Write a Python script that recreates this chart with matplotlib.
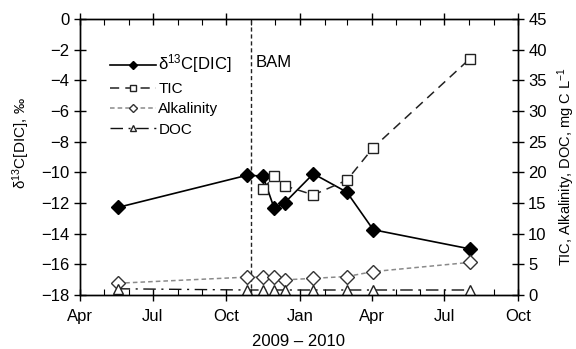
import datetime as dt

import matplotlib
matplotlib.use("Agg")
import matplotlib.pyplot as plt
import matplotlib.dates as mdates

plt.rcParams["font.family"] = ["Liberation Sans", "DejaVu Sans"]
plt.rcParams["mathtext.fontset"] = "custom"
plt.rcParams["mathtext.rm"] = "Liberation Sans"
plt.rcParams["mathtext.it"] = "Liberation Sans:italic"

# sampling dates
DIC_DATES = ["2009-05-18", "2009-10-27", "2009-11-16", "2009-11-30", "2009-12-13",
             "2010-01-18", "2010-03-01", "2010-04-03", "2010-08-02"]
D13C_DIC = [-12.3, -10.2, -10.25, -12.35, -12.0, -10.1, -11.3, -13.75, -15.0]

TIC_DATES = ["2009-11-16", "2009-11-30", "2009-12-13", "2010-01-18",
             "2010-03-01", "2010-04-03", "2010-08-02"]
TIC = [17.2, 19.4, 17.8, 16.3, 18.7, 24.0, 38.5]

ALK_DATES = DIC_DATES
ALKALINITY = [1.9, 2.9, 2.9, 2.9, 2.45, 2.7, 3.0, 3.8, 5.3]

DOC_DATES = DIC_DATES
DOC = [1.0, 0.8, 0.8, 0.8, 0.8, 0.8, 0.8, 0.8, 0.8]

BAM_DATE = "2009-11-01"


def to_dates(strs):
    return [dt.datetime.strptime(s, "%Y-%m-%d") for s in strs]


fig = plt.figure(figsize=(5.76, 3.49), dpi=100)
ax = fig.add_axes([0.139, 0.155, 0.760, 0.791])
ax2 = ax.twinx()

ax.plot(to_dates(DIC_DATES), D13C_DIC, color="black", lw=1.2, marker="D",
        ms=7, mfc="black", mec="black", label=r"δ$^{13}$C[DIC]", zorder=5)
ax2.plot(to_dates(TIC_DATES), TIC, color="#222222", lw=1.1, ls=(0, (6, 4)),
         marker="s", ms=7, mfc="white", mec="#222222", mew=1.0, label="TIC")
ax2.plot(to_dates(ALK_DATES), ALKALINITY, color="#8a8a8a", lw=1.1, ls=(0, (3, 2)),
         marker="D", ms=7.5, mfc="white", mec="#333333", mew=1.0, label="Alkalinity")
ax2.plot(to_dates(DOC_DATES), DOC, color="#111111", lw=1.0, ls=(0, (9, 4, 1.5, 4)),
         marker="^", ms=7.5, mfc="white", mec="#222222", mew=1.0, label="DOC")

ax.axvline(dt.datetime.strptime(BAM_DATE, "%Y-%m-%d"), color="#222222",
           lw=1.0, ls=(0, (3, 2)))
ax.text(dt.datetime(2009, 11, 7), -2.85, "BAM", fontsize=12, va="center")

ax.set_xlim(dt.datetime(2009, 4, 1), dt.datetime(2010, 10, 1))
ax.set_ylim(-18, 0)
ax2.set_ylim(0, 45)

ax.xaxis.set_major_locator(mdates.MonthLocator(bymonth=[1, 4, 7, 10]))
ax.xaxis.set_major_formatter(mdates.DateFormatter("%b"))
ax.xaxis.set_minor_locator(mdates.MonthLocator())
ax.set_yticks(range(-18, 1, 2))
ax2.set_yticks(range(0, 46, 5))

ax.tick_params(axis="both", which="major", direction="inout", length=8, width=1.0,
               labelsize=12, top=True)
ax.tick_params(axis="x", which="major", pad=6)
ax.tick_params(axis="x", which="minor", direction="in", length=4, width=0.8, top=True)
ax2.tick_params(axis="y", which="major", direction="inout", length=8, width=1.0,
                labelsize=12)
for a in (ax, ax2):
    for sp in a.spines.values():
        sp.set_linewidth(1.0)

ax.set_ylabel(r"δ$^{13}$C[DIC], ‰", fontsize=11)
ax.yaxis.set_label_coords(-0.11, 0.55)
ax2.set_ylabel(r"TIC, Alkalinity, DOC, mg C L$^{-1}$", fontsize=10.5)
ax2.yaxis.set_label_coords(1.085, 0.465)
ax.set_xlabel("2009 – 2010", fontsize=12, labelpad=7)

h1, l1 = ax.get_legend_handles_labels()
h2, l2 = ax2.get_legend_handles_labels()
leg = ax2.legend(h1 + h2, l1 + l2, loc="upper left", bbox_to_anchor=(0.055, 0.90),
                 frameon=False, fontsize=11, markerscale=0.6, handlelength=3.0,
                 handletextpad=0.15, labelspacing=0.42, borderaxespad=0.0)
leg.get_texts()[0].set_fontsize(12)

fig.savefig("out.png", dpi=100)
